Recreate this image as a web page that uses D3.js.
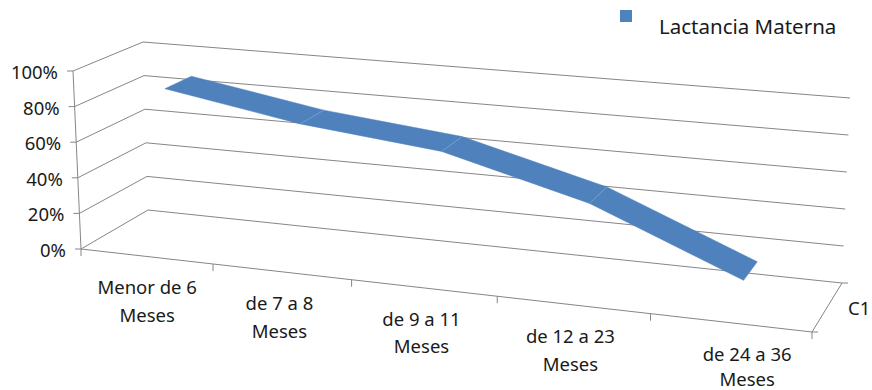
<!DOCTYPE html>
<html lang="es">
<head>
<meta charset="utf-8">
<title>Lactancia Materna</title>
<script src="https://cdn.jsdelivr.net/npm/d3@7/dist/d3.min.js"></script>
<style>
  html, body { margin: 0; padding: 0; background: #fff; }
  svg { display: block; }
  text { font-family: "Noto Sans", "Open Sans", sans-serif; font-size: 18.5px; fill: #1a1a1a; }
  text.legend { font-size: 20.5px; }
</style>
</head>
<body>
<svg id="chart" width="872" height="390"></svg>
<script>
// Breastfeeding rate by age band, as a single ribbon in a 3D line chart.
const categories = [
  ["Menor de 6", "Meses"],
  ["de 7 a 8", "Meses"],
  ["de 9 a 11", "Meses"],
  ["de 12 a 23", "Meses"],
  ["de 24 a 36", "Meses"]
];
const seriesName = "Lactancia Materna";
const depthLabel = "C1";
const lactancia = [87, 74, 66, 45.5, 13];
const valueTicks = [0, 20, 40, 60, 80, 100];

const ink = "#868686";
const blue = "#4f81bd";

const svg = d3.select("#chart");

// Box corners on screen, [column, depth] on the floor and the lift from 0% to 100%.
const floor = {
  frontLeft: [81, 249], frontRight: [812, 332],
  backLeft: [148, 210], backRight: [842, 283]
};
const lift = {
  frontLeft: [-8, -178], frontRight: [7, -195],
  backLeft: [-5, -168], backRight: [8, -185]
};

// Columns get wider towards the viewer on the right.
const foreshorten = t => 0.8816 * t / (1 + (0.8816 - 1) * t);
const column = d3.scaleLinear().domain([0, categories.length]).range([0, 1]);
const value = d3.scaleLinear().domain([0, 100]).range([0, 1]);
const bend = d3.scaleLinear().domain([0, 1]);

function mix(a, b, t) {
  bend.range([a, b]);
  return bend(t);
}
function corner(set, axis, u, d) {
  return mix(mix(set.frontLeft[axis], set.frontRight[axis], u),
             mix(set.backLeft[axis], set.backRight[axis], u), d);
}
// Column position c (in columns), depth d (0 front, 1 back), percentage v -> screen point.
function project(c, d, v) {
  const u = foreshorten(column(c));
  const h = value(v);
  return [corner(floor, 0, u, d) + h * corner(lift, 0, u, d),
          corner(floor, 1, u, d) + h * corner(lift, 1, u, d)];
}

const path = d3.line();
const n = categories.length;
const seg = (a, b, w = 1, color = ink) =>
  svg.append("path").attr("d", path([a, b])).attr("fill", "none")
     .attr("stroke", color).attr("stroke-width", w);

// Gridlines on the left and back walls.
valueTicks.forEach(v => {
  seg(project(0, 0, v), project(0, 1, v));
  seg(project(0, 1, v), project(n, 1, v));
  seg(project(0, 0, v), [project(0, 0, v)[0] - 6, project(0, 0, v)[1]]);
});

// Value axis, floor edges and depth axis.
seg(project(0, 0, 0), project(0, 0, 100));
seg(project(0, 0, 0), project(n, 0, 0));
seg(project(n, 0, 0), project(n, 1, 0));
seg(project(n, 1, 0), [project(n, 1, 0)[0] + 6, project(n, 1, 0)[1]]);
seg(project(n, 0, 0), [project(n, 0, 0)[0] + 6, project(n, 0, 0)[1]]);
d3.range(n + 1).forEach(i => {
  const p = project(i, 0, 0);
  seg(p, [p[0], p[1] + 7]);
});

// Ribbon: one quad per pair of neighbouring categories.
const ribbonFront = 0.37, ribbonBack = 0.77;
const edge = (i, d) => project(i + 0.5, d, lactancia[i]);
d3.range(n - 1).forEach(i => {
  svg.append("path")
    .attr("d", path([edge(i, ribbonFront), edge(i + 1, ribbonFront),
                     edge(i + 1, ribbonBack), edge(i, ribbonBack)]) + "Z")
    .attr("fill", blue).attr("stroke", blue).attr("stroke-width", 0.5);
});
d3.range(1, n - 1).forEach(i => {
  seg(edge(i, ribbonFront), edge(i, ribbonBack), 0.6, "#86a8d3");
});

// Percentage labels follow the slant of the axis.
svg.selectAll("text.value").data(valueTicks).join("text")
  .attr("class", "value")
  .attr("text-anchor", "end")
  .attr("x", d => project(0, 0, d)[0] - 15)
  .attr("y", d => project(0, 0, d)[1] + 8)
  .text(d => d + "%");

// Two-line category labels under the front edge; the last one sits further right
// and has its lines closer together to stay inside the frame.
const labelShift = [1, -2, -2, -2.5, 17];
const lineStep = [28, 28, 27, 28.5, 25];
const labels = svg.selectAll("g.cat").data(categories).join("g").attr("class", "cat");
labels.each(function (lines, i) {
  const p = project(i + 0.5, 0, 0);
  d3.select(this).selectAll("text").data(lines).join("text")
    .attr("text-anchor", "middle")
    .attr("x", p[0] + labelShift[i])
    .attr("y", (d, j) => p[1] + 38 + j * lineStep[i])
    .text(d => d);
});

// Depth axis label.
svg.append("text").attr("x", 848).attr("y", 315).text(depthLabel);

// Legend.
svg.append("rect").attr("x", 620).attr("y", 10).attr("width", 12).attr("height", 12).attr("fill", blue);
svg.append("text").attr("class", "legend").attr("x", 659).attr("y", 34).text(seriesName);
</script>
</body>
</html>
